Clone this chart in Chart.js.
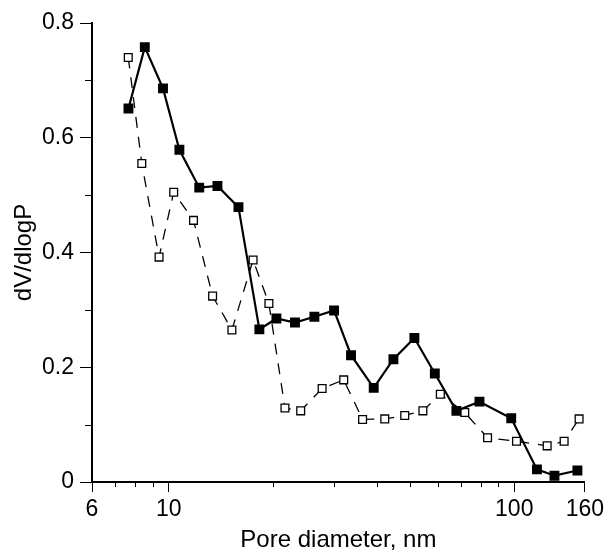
<!DOCTYPE html>
<html>
<head>
<meta charset="utf-8">
<script src="https://cdn.jsdelivr.net/npm/chart.js@4/dist/chart.umd.min.js"></script>
<style>
  html, body { margin: 0; padding: 0; background: #fff; }
  #wrap { width: 608px; height: 552px; }
</style>
</head>
<body>
<div id="wrap"><canvas id="chart" width="608" height="552"></canvas></div>
<script>
// pore diameter (nm) and dV/dlogP
const filledDiam = [7.65, 8.53, 9.63, 10.74, 12.26, 13.84, 15.92, 18.3, 20.5, 23.2, 26.4, 30.1,
    33.7, 39.2, 44.7, 51.4, 58.9, 68.0, 79.3, 98.0, 116.3, 130.7, 152.3];
const filledVal = [0.651, 0.758, 0.686, 0.579, 0.513, 0.516, 0.479, 0.266, 0.285, 0.278, 0.288, 0.299,
    0.221, 0.164, 0.214, 0.251, 0.189, 0.124, 0.140, 0.111, 0.022, 0.011, 0.020];

const openDiam = [7.64, 8.36, 9.38, 10.34, 11.8, 13.4, 15.24, 17.55, 19.5, 21.7, 24.1, 27.8,
    32.1, 36.4, 42.2, 48.2, 54.4, 61.1, 71.9, 83.7, 101.5, 124.5, 139.4, 154];
const openVal = [0.740, 0.555, 0.392, 0.505, 0.456, 0.324, 0.265, 0.387, 0.311, 0.129, 0.124, 0.163,
    0.178, 0.109, 0.110, 0.116, 0.124, 0.153, 0.121, 0.077, 0.071, 0.063, 0.071, 0.110];

const xMajorTicks = [6, 10, 100, 160];
const xMinorTicks = [7, 8, 9, 20, 30, 40, 50, 60, 70, 80, 90];
const yMinorTicks = [0.1, 0.3, 0.5, 0.7];

const FONT = "'Liberation Sans', Arial, sans-serif";

const toPoints = (xs, ys) => xs.map((x, i) => ({ x: x, y: ys[i] }));

// short minor ticks, placed through the scales
const minorTicks = {
    id: 'minorTicks',
    afterDraw(chart) {
        const { ctx, scales: { x, y } } = chart;
        ctx.save();
        ctx.strokeStyle = '#000';
        ctx.lineWidth = 1;
        ctx.beginPath();
        xMinorTicks.forEach(v => {
            const px = Math.round(x.getPixelForValue(v)) + 0.5;
            ctx.moveTo(px, y.bottom);
            ctx.lineTo(px, y.bottom + 5);
        });
        yMinorTicks.forEach(v => {
            const py = Math.round(y.getPixelForValue(v)) + 0.5;
            ctx.moveTo(x.left, py);
            ctx.lineTo(x.left - 7, py);
        });
        ctx.stroke();
        ctx.restore();
    },
};

new Chart(document.getElementById('chart'), {
    type: 'line',
    data: {
        datasets: [{
            data: toPoints(filledDiam, filledVal),
            borderColor: '#000',
            borderWidth: 2.2,
            pointStyle: 'rect',
            pointRadius: 7,
            pointBackgroundColor: '#000',
            pointBorderColor: '#000',
            pointBorderWidth: 0,
            tension: 0,
        }, {
            data: toPoints(openDiam, openVal),
            borderColor: '#000',
            borderWidth: 1.3,
            borderDash: [11, 9],
            pointStyle: 'rect',
            pointRadius: 5.5,
            pointBackgroundColor: '#fff',
            pointBorderColor: '#000',
            pointBorderWidth: 1.3,
            tension: 0,
        }],
    },
    options: {
        responsive: false,
        animation: false,
        layout: { padding: { left: 0, top: 23, right: 21, bottom: 0 } },
        plugins: {
            legend: { display: false },
            tooltip: { enabled: false },
        },
        scales: {
            x: {
                type: 'logarithmic',
                min: 6,
                max: 160,
                afterBuildTicks: (scale) => {
                    scale.ticks = xMajorTicks.map(v => ({ value: v }));
                },
                afterFit: (scale) => { scale.height = 70; },
                ticks: {
                    color: '#000',
                    font: { family: FONT, size: 23 },
                    padding: 4,
                    maxRotation: 0,
                    autoSkip: false,
                    callback: (v) => String(v),
                },
                grid: {
                    drawOnChartArea: false,
                    drawTicks: true,
                    tickLength: 10,
                    color: '#000',
                    lineWidth: 1,
                },
                border: { display: true, color: '#000', width: 2 },
                title: {
                    display: true,
                    text: 'Pore diameter, nm',
                    color: '#000',
                    font: { family: FONT, size: 24, lineHeight: 1 },
                    padding: { top: 0, bottom: 0 },
                },
            },
            y: {
                min: 0,
                max: 0.8,
                afterFit: (scale) => { scale.width = 92; },
                ticks: {
                    stepSize: 0.2,
                    color: '#000',
                    font: { family: FONT, size: 23 },
                    padding: 6,
                },
                grid: {
                    drawOnChartArea: false,
                    drawTicks: true,
                    tickLength: 12,
                    color: '#000',
                    lineWidth: 1,
                },
                border: { display: true, color: '#000', width: 2 },
                title: {
                    display: true,
                    text: 'dV/dlogP',
                    color: '#000',
                    font: { family: FONT, size: 24, lineHeight: 1 },
                    padding: { top: 12, bottom: 0 },
                },
            },
        },
    },
    plugins: [minorTicks],
});
</script>
</body>
</html>
